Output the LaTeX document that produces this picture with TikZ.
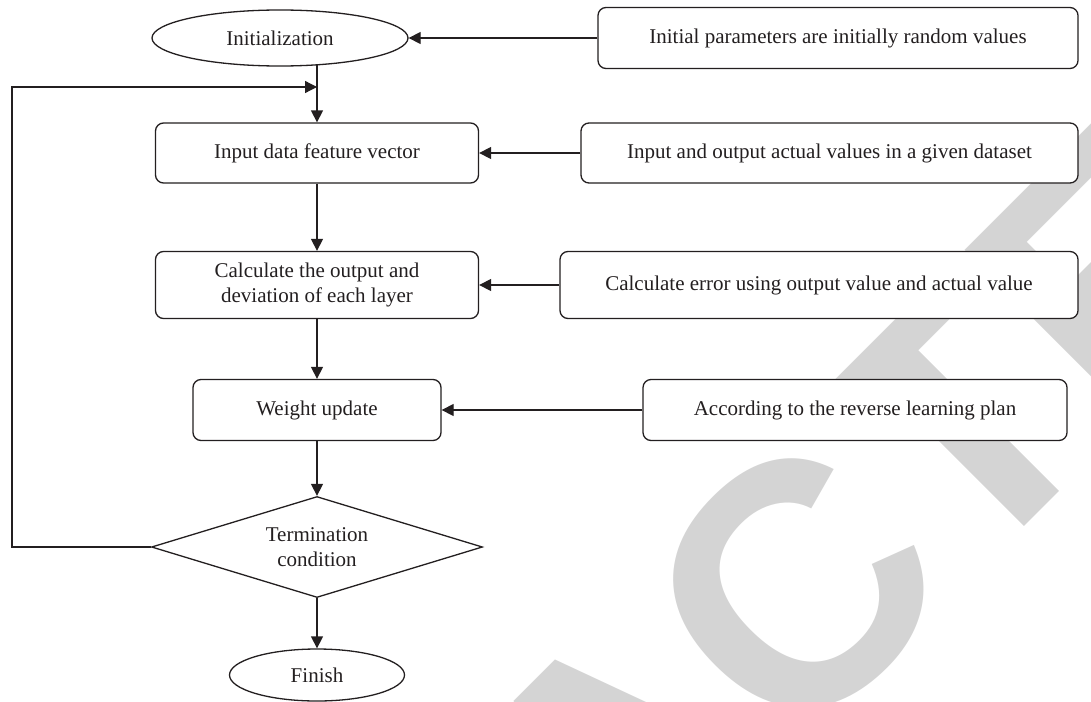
\documentclass[tikz,border=0pt]{standalone}
\usepackage{fontspec}
\setmainfont{Liberation Serif}
\newfontfamily\wmfont{Liberation Sans}
\usetikzlibrary{shapes.geometric,arrows.meta}
\definecolor{ink}{HTML}{231F20}
\definecolor{wm}{HTML}{D4D4D4}
\pgfdeclarelayer{back}
\pgfsetlayers{back,main}
\begin{document}
\begin{tikzpicture}[x=1pt,y=-1pt,
  every node/.style={font=\fontsize{21}{25}\selectfont, text=ink},
  rbox/.style={draw=ink, line width=1.3pt, rounded corners=8pt, fill=white, inner sep=0pt, align=center},
  oval/.style={ellipse, draw=ink, line width=1.3pt, fill=white, inner sep=0pt},
  dia/.style={diamond, draw=ink, line width=1.3pt, fill=white, inner sep=0pt, align=center, shape aspect=3.28},
  conn/.style={draw=ink, line width=1.3pt},
  arr/.style={conn, -{Triangle[length=12pt,width=12pt]}},
  wmtext/.style={text=wm, font=\wmfont\bfseries\fontsize{345}{345}\selectfont, rotate=45, inner sep=0pt}
]
\useasboundingbox (0,0) rectangle (1091,701);

\node[oval, minimum width=256pt, minimum height=56pt] (init) at (280,38) {Initialization};
\node[rbox, minimum width=480pt, minimum height=61pt] (pA) at (838,38) {Initial parameters are initially random values};
\node[rbox, minimum width=323pt, minimum height=60pt] (input) at (317,153) {Input data feature vector};
\node[rbox, minimum width=497pt, minimum height=60pt] (pB) at (829.5,153) {Input and output actual values in a given dataset};
\node[rbox, minimum width=323pt, minimum height=67pt] (calc) at (317,285) {Calculate the output and\\deviation of each layer};
\node[rbox, minimum width=518pt, minimum height=67pt] (pC) at (819,285) {Calculate error using output value and actual value};
\node[rbox, minimum width=248pt, minimum height=61pt] (wu) at (317,410) {Weight update};
\node[rbox, minimum width=424pt, minimum height=61pt] (pD) at (855,410) {According to the reverse learning plan};
\node[dia, minimum width=331pt, minimum height=101pt] (term) at (317,547) {Termination\\condition};
\node[oval, minimum width=175pt, minimum height=52pt] (fin) at (317,675) {Finish};

\begin{pgfonlayer}{back}
  \clip (0,0) rectangle (1091,701);
  \node[wmtext] (wmk) at (619,764) {RETRACTED};
  \draw[arr] (input.north |- init.center) -- (input.north);
\end{pgfonlayer}

\coordinate (j) at (317,87);
\coordinate (lc) at (12,87);

\draw[arr] (pA) -- (init);
\draw[arr] (pB) -- (input);
\draw[arr] (pC) -- (calc);
\draw[arr] (pD) -- (wu);
\draw[arr] (input) -- (calc);
\draw[arr] (calc) -- (wu);
\draw[arr] (wu) -- (term);
\draw[arr] (term) -- (fin);
\draw[arr] (term.west) -| (lc) -- (j);
\end{tikzpicture}
\end{document}
